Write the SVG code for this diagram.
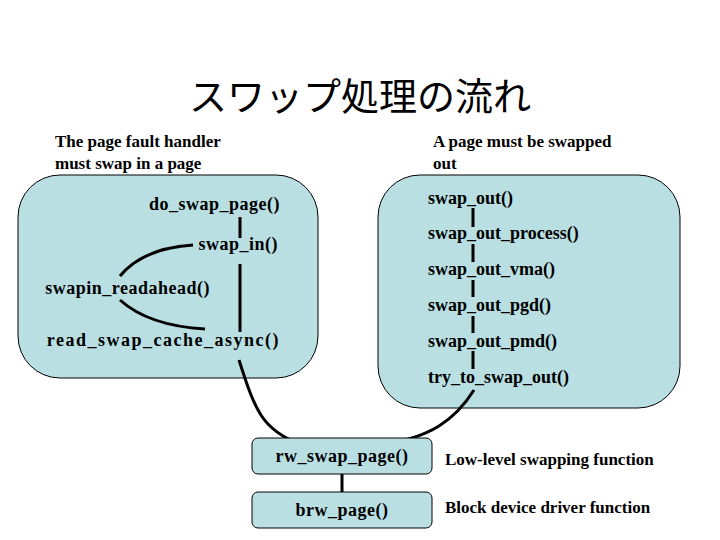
<svg xmlns="http://www.w3.org/2000/svg" width="720" height="540" viewBox="0 0 720 540">
<style>
.t{font-family:"Liberation Serif","Times New Roman","DejaVu Serif",serif;font-weight:bold;font-size:18px;fill:#000}
.s{font-family:"Liberation Serif","Times New Roman","DejaVu Serif",serif;font-weight:bold;font-size:17px;fill:#000}
.box{fill:#b9dfe3;stroke:#000;stroke-width:1}
.ln{fill:none;stroke:#000;stroke-width:3}
</style>
<rect width="720" height="540" fill="#fff"/>
<text x="360" y="110" text-anchor="middle" font-family="'Noto Sans CJK JP',sans-serif" font-size="38">スワップ処理の流れ</text>
<text class="s" x="55" y="147">The page fault handler</text>
<text class="s" x="55" y="169">must swap in a page</text>
<text class="s" x="433" y="147">A page must be swapped</text>
<text class="s" x="433" y="169">out</text>
<g id="leftgroup"><rect class="box" x="18" y="175" width="300" height="203" rx="42"/></g>
<g id="rightgroup"><rect class="box" x="378" y="175" width="302" height="233" rx="42"/></g>
<g id="connectors">
<path class="ln" d="M240 217V238M240 264V332"/>
<path class="ln" d="M193 245C160 247 135 258 120 276"/>
<path class="ln" d="M120 300C140 318 170 327 205 329"/>
<path class="ln" d="M239 360C255 410 262 430 300 444"/>
<path class="ln" d="M473 208V227M473 244V262M473 280V297M473 316V333M473 351V369"/>
<path class="ln" d="M474 390C455 420 430 438 383 444"/>
<path class="ln" d="M342 474V498"/>
</g>
<g id="n1"><text class="t" x="280" y="210" text-anchor="end" letter-spacing="0.5">do_swap_page()</text></g>
<g id="n2"><text class="t" x="278" y="250" text-anchor="end" letter-spacing="0.5">swap_in()</text></g>
<g id="n3"><text class="t" x="210" y="294" text-anchor="end" letter-spacing="0.5">swapin_readahead()</text></g>
<g id="n4"><text class="t" x="280" y="346" text-anchor="end" letter-spacing="1.5">read_swap_cache_async()</text></g>
<g id="n5"><text class="t" x="428" y="204">swap_out()</text></g>
<g id="n6"><text class="t" x="428" y="239">swap_out_process()</text></g>
<g id="n7"><text class="t" x="428" y="275">swap_out_vma()</text></g>
<g id="n8"><text class="t" x="428" y="311">swap_out_pgd()</text></g>
<g id="n9"><text class="t" x="428" y="347">swap_out_pmd()</text></g>
<g id="n10"><text class="t" x="428" y="383">try_to_swap_out()</text></g>
<g id="n11"><rect class="box" x="252" y="438" width="180" height="36" rx="6"/><text class="t" x="342" y="462" text-anchor="middle" letter-spacing="0.5">rw_swap_page()</text></g>
<g id="n12"><rect class="box" x="252" y="492" width="180" height="36" rx="6"/><text class="t" x="342" y="516" text-anchor="middle" letter-spacing="0.5">brw_page()</text></g>
<text class="s" x="445" y="465">Low-level swapping function</text>
<text class="s" x="445" y="513">Block device driver function</text>
</svg>
